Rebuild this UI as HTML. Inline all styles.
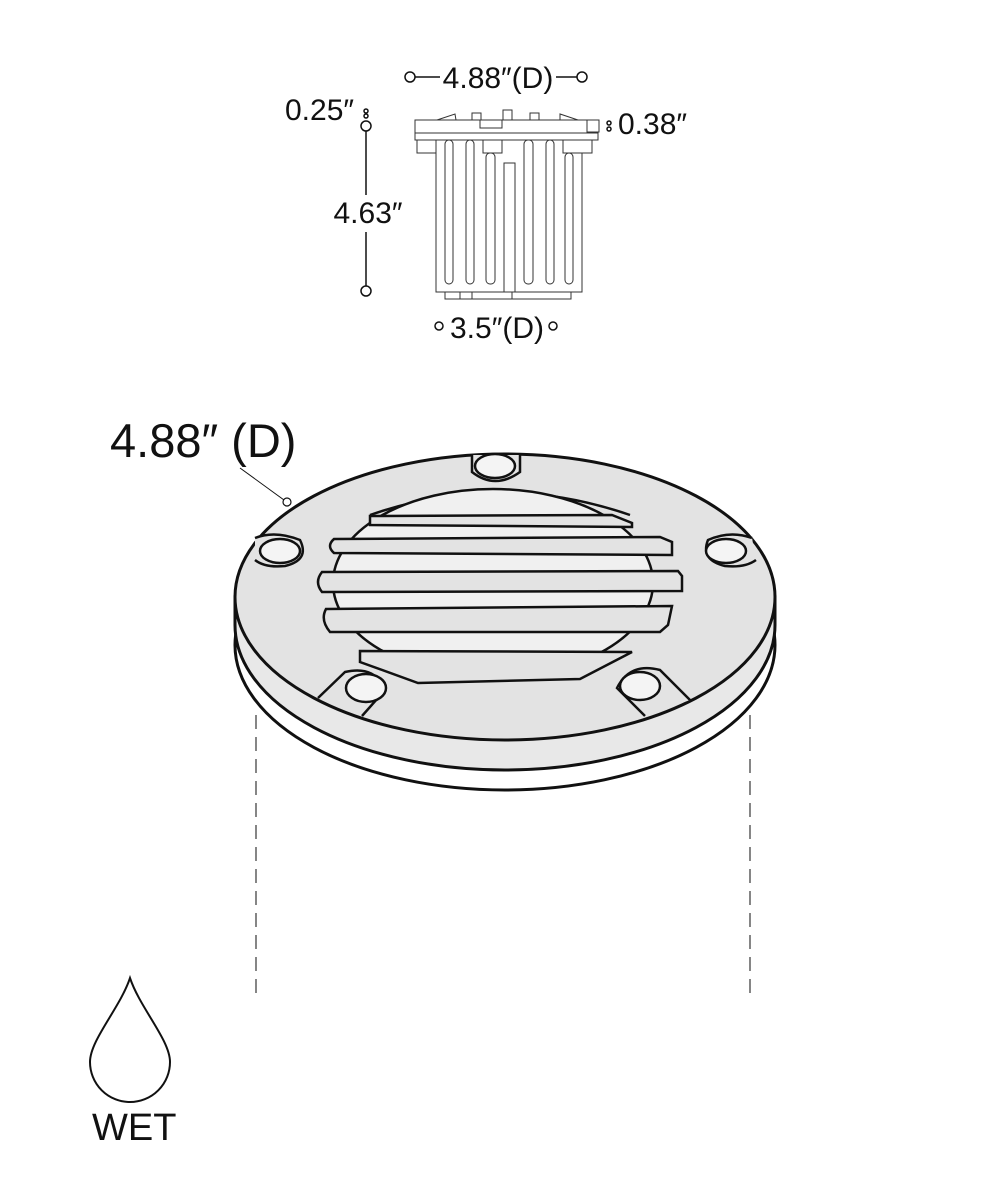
<!DOCTYPE html>
<html><head><style>
body{margin:0;background:#fff}
svg{display:block}
text{font-family:"Liberation Sans",sans-serif;fill:#111}
</style></head><body>
<svg width="1000" height="1200" viewBox="0 0 1000 1200" xmlns="http://www.w3.org/2000/svg">
<g stroke="#111" stroke-width="1.5" fill="#fff">
<circle cx="410" cy="77" r="5"/><circle cx="582" cy="77" r="5"/>
<line x1="415" y1="77" x2="440" y2="77"/><line x1="556" y1="77" x2="577" y2="77"/>
<circle cx="366" cy="111" r="2"/><circle cx="366" cy="116" r="2"/><circle cx="366" cy="126" r="5"/>
<line x1="366" y1="131" x2="366" y2="195"/><line x1="366" y1="232" x2="366" y2="286"/>
<circle cx="366" cy="291" r="5"/>
<circle cx="609" cy="123" r="2"/><circle cx="609" cy="129" r="2"/>
<circle cx="439" cy="326" r="4"/><circle cx="553" cy="326" r="4"/>
</g>
<text x="498" y="88" font-size="30" text-anchor="middle">4.88″(D)</text>
<text x="285" y="120" font-size="30">0.25″</text>
<text x="368" y="223" font-size="30" text-anchor="middle">4.63″</text>
<text x="618" y="134" font-size="30">0.38″</text>
<text x="497" y="338" font-size="30" text-anchor="middle">3.5″(D)</text>
<g stroke="#333" stroke-width="1" fill="#fff">
<path d="M437,120 L455,114 L456,120Z"/><path d="M560,120 L560,114 L578,120Z"/>
<rect x="472" y="113" width="9" height="7"/><rect x="503" y="110" width="9" height="10"/><rect x="530" y="113" width="9" height="7"/>
<rect x="415" y="120" width="183" height="20"/><line x1="415" y1="133" x2="598" y2="133"/>
<rect x="480" y="120" width="22" height="8"/><rect x="587" y="120" width="12" height="12"/>
<rect x="436" y="140" width="146" height="152"/>
<rect x="417" y="140" width="19" height="13"/><rect x="483" y="140" width="19" height="13"/><rect x="563" y="140" width="29" height="13"/>
<rect x="445" y="140" width="8" height="144" rx="4"/><rect x="466" y="140" width="8" height="144" rx="4"/><rect x="486" y="153" width="9" height="131" rx="4"/>
<rect x="504" y="163" width="11" height="129"/>
<rect x="524" y="140" width="9" height="144" rx="4"/><rect x="546" y="140" width="8" height="144" rx="4"/><rect x="565" y="153" width="8" height="131" rx="4"/>
<rect x="445" y="292" width="67" height="7"/><rect x="460" y="292" width="12" height="7"/><rect x="512" y="292" width="59" height="7"/>
</g>
<text x="110" y="457" font-size="47">4.88″ (D)</text>
<line x1="240" y1="468" x2="284" y2="500" stroke="#111" stroke-width="1"/>
<circle cx="287" cy="502" r="4" fill="#fff" stroke="#111" stroke-width="1.2"/>
<g stroke="#111" stroke-width="3">
<ellipse cx="505" cy="645" rx="270" ry="145" fill="#fff"/>
<path d="M235,597 L235,625 A270,145 0 0 0 775,625 L775,597 Z" fill="#e8e8e8"/>
<ellipse cx="505" cy="597" rx="270" ry="143" fill="#e3e3e3"/>
</g>
<g stroke="#111" stroke-width="2.5" fill="#e3e3e3">
<path d="M370,515 Q500,470 630,515" fill="none"/>
<ellipse cx="493" cy="583" rx="160" ry="94" fill="#f0f0f0"/>
<path d="M370,516 L612,515 L632,523 L632,527 L370,525Z"/>
<path d="M334,539 L660,537 L672,542 L672,555 L334,553 Q326,546 334,539Z"/>
<path d="M322,572 L678,571 L682,576 L682,591 L322,592 Q314,582 322,572Z"/>
<path d="M326,609 L672,606 L668,625 L660,632 L330,632 Q320,620 326,609Z"/>
<path d="M360,651 L632,652 L580,679 L418,683 L360,662Z"/>
<path d="M472,455 L472,472 Q495,490 520,472 L520,455" fill="#e3e3e3"/>
<ellipse cx="495" cy="466" rx="20" ry="12" fill="#f4f4f4"/>
<path d="M255,538 Q275,530 300,540 Q310,560 285,566 Q265,568 255,560" fill="#e3e3e3"/>
<ellipse cx="280" cy="551" rx="20" ry="12" fill="#f4f4f4"/>
<path d="M752,538 Q730,530 708,540 Q700,560 725,566 Q745,568 756,560" fill="#e3e3e3"/>
<ellipse cx="726" cy="551" rx="20" ry="12" fill="#f4f4f4"/>
<path d="M318,698 L345,672 Q375,665 385,690 L362,716" fill="#e3e3e3"/>
<ellipse cx="366" cy="688" rx="20" ry="14" fill="#f4f4f4"/>
<path d="M690,700 L660,670 Q630,662 617,688 L645,716" fill="#e3e3e3"/>
<ellipse cx="640" cy="686" rx="20" ry="14" fill="#f4f4f4"/>
</g>
<g stroke="#444" stroke-width="1.3" stroke-dasharray="14,8">
<line x1="256" y1="715" x2="256" y2="995"/><line x1="750" y1="715" x2="750" y2="995"/>
</g>
<path d="M130,978 C120,1008 90,1040 90,1062 A40,40 0 0 0 170,1062 C170,1040 140,1008 130,978Z" fill="#fff" stroke="#111" stroke-width="2"/>
<text x="92" y="1140" font-size="38">WET</text>
</svg>
</body></html>
